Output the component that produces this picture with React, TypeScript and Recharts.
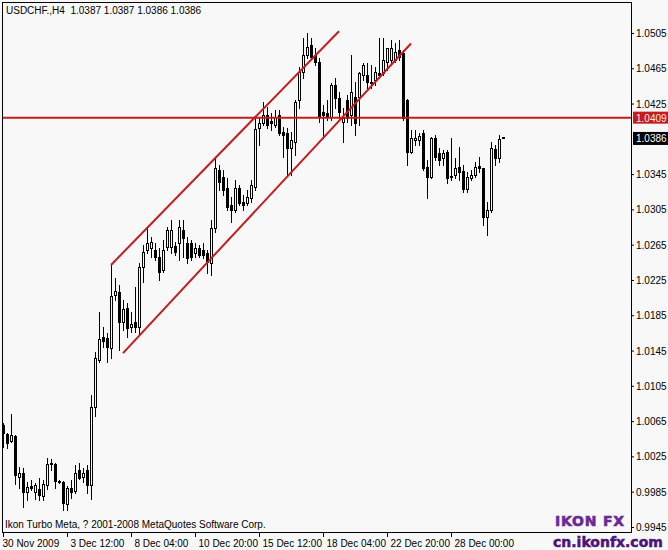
import React from "react";
import { Bar, ComposedChart, ReferenceLine, XAxis, YAxis } from "recharts";

const BG = "#f8f8f8";
const RED = "#c41c1c";
const INK = "#000000";
const LOGO_LIGHT = "#6a2a96";
const LOGO_DARK = "#4c1478";
const NARROW = "'Liberation Sans Narrow', 'Liberation Sans', sans-serif";
const SANS = "'Liberation Sans', Arial, sans-serif";

// USDCHF H4, one value per bar (oldest first)
const opens = [
  1.0061, 1.005, 1.0042, 1.0048, 1.0002, 1.0006, 0.9985, 0.9991, 0.9985, 0.9988,
  0.998, 0.9993, 1.0016, 1.0016, 0.9997, 0.9996, 0.9971, 0.9989, 0.9986, 1.001,
  1.0002, 1.001, 0.9993, 1.0081, 1.0134, 1.016, 1.0159, 1.0148, 1.0208, 1.0211,
  1.0177, 1.0193, 1.0172, 1.0177, 1.0172, 1.024, 1.0259, 1.0261, 1.0259, 1.0251,
  1.0236, 1.0262, 1.0262, 1.0264, 1.0267, 1.0282, 1.0267, 1.0267, 1.0256, 1.0261,
  1.0259, 1.0256, 1.0244, 1.0284, 1.035, 1.0342, 1.0329, 1.031, 1.0304, 1.0329,
  1.0313, 1.0312, 1.0318, 1.033, 1.0397, 1.0403, 1.0412, 1.0405, 1.0401, 1.0412,
  1.0393, 1.0392, 1.0375, 1.0381, 1.0429, 1.0461, 1.048, 1.0491, 1.048, 1.0472,
  1.0415, 1.0414, 1.041, 1.0446, 1.0431, 1.0404, 1.0429, 1.0412, 1.0432, 1.0432,
  1.0457, 1.0457, 1.0448, 1.0452, 1.046, 1.046, 1.0472, 1.0474, 1.0474, 1.0486,
  1.0482, 1.0429, 1.037, 1.0384, 1.0384, 1.0392, 1.0353, 1.0342, 1.0386, 1.0369,
  1.0363, 1.037, 1.0343, 1.0344, 1.0353, 1.0349, 1.0328, 1.0341, 1.0344, 1.0354,
  1.0352, 1.0296, 1.0304, 1.0373, 1.0363, 1.0387,
];
const highs = [
  1.0063, 1.0051, 1.0073, 1.0049, 1.0013, 1.0012, 0.9996, 0.9998, 0.9995, 1.0,
  0.9998, 1.0023, 1.0022, 1.0017, 0.9998, 0.9997, 0.9991, 0.9998, 1.0015, 1.0017,
  1.0012, 1.0015, 1.0095, 1.0143, 1.0189, 1.0172, 1.0165, 1.0242, 1.0227, 1.0219,
  1.0202, 1.0199, 1.0189, 1.0217, 1.0244, 1.0265, 1.0285, 1.0274, 1.0267, 1.0261,
  1.027, 1.0285, 1.0293, 1.0268, 1.0293, 1.0293, 1.0274, 1.027, 1.0267, 1.0265,
  1.0267, 1.0259, 1.0293, 1.0364, 1.0355, 1.035, 1.0341, 1.0319, 1.0338, 1.0333,
  1.0321, 1.0327, 1.0338, 1.0409, 1.0409, 1.0427, 1.0421, 1.0414, 1.0418, 1.0418,
  1.0398, 1.0397, 1.0393, 1.0429, 1.0466, 1.0499, 1.0505, 1.0499, 1.0488, 1.0477,
  1.0423, 1.0429, 1.0448, 1.0454, 1.0438, 1.042, 1.0435, 1.048, 1.0449, 1.0461,
  1.0471, 1.0471, 1.0469, 1.0466, 1.0499, 1.0499, 1.0488, 1.0497, 1.0494, 1.0497,
  1.0486, 1.043, 1.0395, 1.0395, 1.0392, 1.0395, 1.0361, 1.0387, 1.0389, 1.0375,
  1.0372, 1.0372, 1.0386, 1.0363, 1.0376, 1.0355, 1.0347, 1.035, 1.0359, 1.0364,
  1.0352, 1.0313, 1.0381, 1.0378, 1.0389, 1.0387,
];
const lows = [
  1.0036, 1.0035, 1.0041, 0.9994, 0.9989, 0.9968, 0.9976, 0.9987, 0.9977, 0.9976,
  0.9976, 0.9988, 1.001, 0.9989, 0.9995, 0.9964, 0.9964, 0.9978, 0.9984, 0.9999,
  0.9996, 0.9984, 0.9977, 1.0071, 1.0132, 1.0149, 1.0132, 1.0137, 1.0202, 1.0146,
  1.0168, 1.016, 1.0166, 1.0166, 1.0163, 1.0223, 1.0256, 1.0251, 1.0248, 1.0225,
  1.0234, 1.0259, 1.0256, 1.0253, 1.0248, 1.0251, 1.0244, 1.0248, 1.0251, 1.0251,
  1.025, 1.0233, 1.0231, 1.0279, 1.0327, 1.0321, 1.0304, 1.0291, 1.0302, 1.031,
  1.0304, 1.031, 1.0313, 1.0327, 1.0378, 1.0401, 1.0397, 1.0395, 1.0398, 1.0389,
  1.0364, 1.0344, 1.0344, 1.0367, 1.042, 1.0454, 1.0477, 1.0477, 1.0469, 1.0404,
  1.0386, 1.0406, 1.0406, 1.042, 1.0409, 1.0381, 1.0404, 1.0401, 1.0389, 1.0401,
  1.0452, 1.0443, 1.0443, 1.0446, 1.0454, 1.0457, 1.0463, 1.0471, 1.0472, 1.0474,
  1.0406, 1.0355, 1.0369, 1.0378, 1.0378, 1.035, 1.0318, 1.0341, 1.0361, 1.0355,
  1.0355, 1.0335, 1.0338, 1.0341, 1.0338, 1.0325, 1.0325, 1.0338, 1.0342, 1.0347,
  1.0287, 1.0276, 1.0302, 1.0355, 1.0359, 1.0386,
];
const closes = [
  1.0052, 1.004, 1.0049, 1.0004, 1.0006, 0.9985, 0.999, 0.9989, 0.9993, 0.9981,
  0.9994, 1.0016, 1.0017, 0.9997, 0.9996, 0.9972, 0.9989, 0.9985, 1.0006, 1.0,
  1.0006, 0.9993, 1.0081, 1.0137, 1.0158, 1.0156, 1.0149, 1.0207, 1.0212, 1.0177,
  1.0192, 1.0171, 1.0175, 1.0172, 1.024, 1.0257, 1.0267, 1.0268, 1.0251, 1.0234,
  1.0259, 1.0282, 1.0282, 1.0257, 1.0285, 1.0273, 1.025, 1.0251, 1.0261, 1.0253,
  1.0253, 1.0245, 1.0284, 1.0352, 1.0336, 1.0327, 1.0308, 1.0304, 1.0329, 1.0312,
  1.031, 1.0319, 1.0333, 1.0396, 1.0403, 1.0412, 1.0401, 1.0403, 1.041, 1.0392,
  1.0389, 1.0375, 1.0384, 1.0427, 1.0461, 1.048, 1.0489, 1.0478, 1.0472, 1.041,
  1.0412, 1.041, 1.0446, 1.0431, 1.0415, 1.0409, 1.0409, 1.0438, 1.0403, 1.046,
  1.0469, 1.0449, 1.0449, 1.0461, 1.0457, 1.0474, 1.0488, 1.0488, 1.0483, 1.0478,
  1.0409, 1.037, 1.0386, 1.0386, 1.0388, 1.0352, 1.0342, 1.0386, 1.0364, 1.0361,
  1.0369, 1.0341, 1.0342, 1.0352, 1.0347, 1.0328, 1.0342, 1.0344, 1.0353, 1.0352,
  1.0296, 1.0304, 1.0375, 1.0363, 1.0385, 1.0386,
];

// empty bars kept on the right (chart shift)
const SHIFT_BARS = 31;

const timeTickBars = [0, 16, 32, 48, 64, 80, 96, 112];
const timeTickLabels = [
  "30 Nov 2009",
  "3 Dec 12:00",
  "8 Dec 04:00",
  "10 Dec 20:00",
  "15 Dec 12:00",
  "18 Dec 04:00",
  "22 Dec 20:00",
  "28 Dec 00:00",
];

const priceTicks = [
  0.9945, 0.9985, 1.0025, 1.0065, 1.0105, 1.0145, 1.0185, 1.0225, 1.0265, 1.0305,
  1.0345, 1.0386, 1.0409, 1.0425, 1.0465, 1.0505,
];
const priceDomain = [0.99393, 1.05401];

const levelPrice = 1.0409;
const lastPrice = 1.0386;

// equidistant channel: [bar, price] end points
const channelTop = [
  [27, 1.0242],
  [84, 1.0507],
];
const channelBottom = [
  [30, 1.0142],
  [102, 1.0493],
];

const rows = Array.from({ length: opens.length + SHIFT_BARS }, (_, i) =>
  i < opens.length
    ? { i, o: opens[i], h: highs[i], l: lows[i], c: closes[i] }
    : { i }
);

function Candle(props: any) {
  const { x, y, width, height, payload } = props;
  if (!payload || payload.h == null) return null;
  const { o, h, l, c } = payload;
  const top = Math.min(y, y + height);
  const span = Math.abs(height);
  const range = h - l || 1;
  const py = (v: number) => top + ((h - v) / range) * span;
  const cx = Math.floor(x + width / 2);
  const hi = Math.round(py(h));
  const lo = Math.round(py(l));
  const bt = Math.round(py(Math.max(o, c)));
  const bb = Math.round(py(Math.min(o, c)));
  const bull = c >= o;
  return (
    <g>
      <line x1={cx + 0.5} x2={cx + 0.5} y1={hi} y2={lo + 1} stroke={INK} strokeWidth={1} />
      {bull ? (
        bb > bt ? (
          <rect x={cx - 0.5} y={bt + 0.5} width={2} height={bb - bt} fill={BG} stroke={INK} strokeWidth={1} />
        ) : (
          <rect x={cx - 1} y={bt} width={3} height={1} fill={INK} />
        )
      ) : (
        <rect x={cx - 1} y={bt} width={3} height={Math.max(1, bb - bt + 1)} fill={INK} />
      )}
    </g>
  );
}

function PriceTick(props: any) {
  const { x, y, payload } = props;
  const v = payload.value as number;
  const label = v.toFixed(4);
  if (Math.abs(v - levelPrice) < 1e-7) {
    return (
      <g>
        <rect x={x + 2} y={y - 6} width={35} height={12} fill={RED} />
        <text x={x + 5} y={y + 4} fontSize={10} fontFamily={NARROW} fill="#ffe8e8">
          {label}
        </text>
      </g>
    );
  }
  if (Math.abs(v - lastPrice) < 1e-7) {
    return (
      <g>
        <rect x={x + 2} y={y - 6} width={35} height={13} fill={INK} />
        <text x={x + 5} y={y + 4} fontSize={10} fontFamily={NARROW} fill="#ffffff">
          {label}
        </text>
      </g>
    );
  }
  return (
    <g>
      <line x1={x} x2={x + 3} y1={y + 0.5} y2={y + 0.5} stroke={INK} strokeWidth={1} />
      <text x={x + 5} y={y + 4} fontSize={10} fontFamily={NARROW} fill={INK}>
        {label}
      </text>
    </g>
  );
}

function TimeTick(props: any) {
  const { x, y, payload } = props;
  const k = timeTickBars.indexOf(Number(payload.value));
  const px = Math.floor(x) + 0.5;
  return (
    <g>
      <line x1={px} x2={px} y1={y} y2={y + 5} stroke={INK} strokeWidth={1} />
      <text x={px + (k === 0 ? -1 : 3)} y={y + 15} fontSize={10} fontFamily={NARROW} fill={INK}>
        {k >= 0 ? timeTickLabels[k] : ""}
      </text>
    </g>
  );
}

export default function App() {
  return (
    <div style={{ position: "absolute", left: 0, top: 0, width: 668, height: 550, background: BG }}>
      <ComposedChart
        width={668}
        height={550}
        data={rows}
        margin={{ top: 2, right: 0, bottom: 0, left: 2 }}
        barCategoryGap={0}
        barGap={0}
      >
        <XAxis
          dataKey="i"
          type="category"
          ticks={timeTickBars}
          interval={0}
          height={18}
          padding={{ left: -1, right: 2 }}
          axisLine={false}
          tickLine={false}
          tickSize={0}
          tickMargin={0}
          tick={(p: any) => <TimeTick {...p} />}
        />
        <YAxis
          orientation="right"
          width={37}
          domain={priceDomain}
          allowDataOverflow
          ticks={priceTicks}
          interval={0}
          axisLine={false}
          tickLine={false}
          tickSize={0}
          tickMargin={0}
          tick={(p: any) => <PriceTick {...p} />}
        />
        <Bar
          dataKey={(d: any) => (d.h == null ? null : [d.l, d.h])}
          barSize={3}
          shape={(p: any) => <Candle {...p} />}
          isAnimationActive={false}
        />
        <ReferenceLine y={levelPrice} stroke={RED} strokeWidth={2} />
        <ReferenceLine
          segment={channelTop.map(([b, p]) => ({ x: b, y: p }))}
          stroke={RED}
          strokeWidth={2}
        />
        <ReferenceLine
          segment={channelBottom.map(([b, p]) => ({ x: b, y: p }))}
          stroke={RED}
          strokeWidth={2}
        />
      </ComposedChart>
      <svg
        width={668}
        height={550}
        style={{ position: "absolute", left: 0, top: 0, pointerEvents: "none" }}
      >
        <rect x={2.5} y={2.5} width={629} height={530} fill="none" stroke={INK} strokeWidth={1} />
        <text x={6} y={14} fontSize={10} fontFamily={SANS} fill={INK} xmlSpace="preserve">
          {"USDCHF.,H4  1.0387 1.0387 1.0386 1.0386"}
        </text>
        <text x={5} y={528} fontSize={10} fontFamily={SANS} fill={INK}>
          Ikon Turbo Meta, ? 2001-2008 MetaQuotes Software Corp.
        </text>
        <text
          x={555}
          y={526}
          fontSize={14}
          fontWeight={900}
          fontFamily="'DejaVu Sans', sans-serif"
          letterSpacing={0.8}
          stroke={LOGO_LIGHT}
          strokeWidth={0.6}
          fill={LOGO_LIGHT}
        >
          IKON FX
        </text>
        <text
          x={553}
          y={547}
          fontSize={14}
          fontWeight={900}
          fontFamily="'DejaVu Sans', sans-serif"
          stroke={LOGO_DARK}
          strokeWidth={0.5}
          fill={LOGO_DARK}
        >
          cn.ikonfx.com
        </text>
      </svg>
    </div>
  );
}
